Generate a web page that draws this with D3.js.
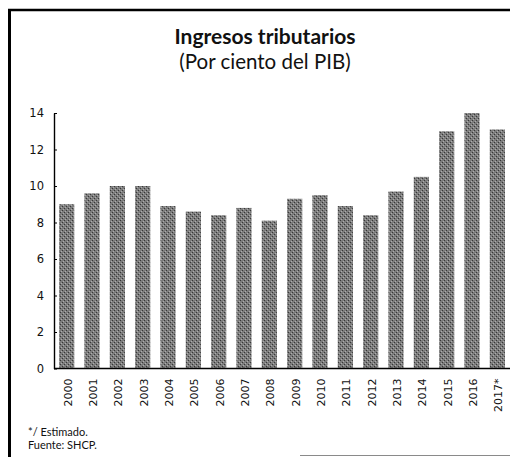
<!DOCTYPE html>
<html>
<head>
<meta charset="utf-8">
<script src="https://cdn.jsdelivr.net/npm/d3@7"></script>
<style>
  html, body { margin: 0; padding: 0; background: #fff; }
  svg { display: block; }
</style>
</head>
<body>
<svg id="chart" width="510" height="457"></svg>
<script>
// Tax revenue as a share of GDP, 2000-2017 (2017 estimated)
const years = ["2000","2001","2002","2003","2004","2005","2006","2007","2008",
               "2009","2010","2011","2012","2013","2014","2015","2016","2017*"];
const values = [9.0, 9.6, 10.0, 10.0, 8.9, 8.6, 8.4, 8.8, 8.1,
                9.3, 9.5, 8.9, 8.4, 9.7, 10.5, 13.0, 14.0, 13.1];
const yTicks = [0, 2, 4, 6, 8, 10, 12, 14];

const W = 510, H = 457;
const plot = { left: 54, right: 510, top: 113, bottom: 368.5 };

const svg = d3.select("#chart");

// stippled grey fill for the bars
const defs = svg.append("defs");
const pat = defs.append("pattern")
  .attr("id", "stipple").attr("patternUnits", "userSpaceOnUse")
  .attr("width", 4).attr("height", 4);
pat.append("rect").attr("width", 4).attr("height", 4).attr("fill", "#7c7c7c");
pat.append("rect").attr("x", 0).attr("y", 0).attr("width", 1).attr("height", 1).attr("fill", "#383838");
pat.append("rect").attr("x", 2).attr("y", 2).attr("width", 1).attr("height", 1).attr("fill", "#383838");
pat.append("rect").attr("x", 1).attr("y", 3).attr("width", 1).attr("height", 1).attr("fill", "#adadad");
pat.append("rect").attr("x", 3).attr("y", 1).attr("width", 1).attr("height", 1).attr("fill", "#adadad");

// frame
svg.append("line").attr("x1", 8).attr("x2", W).attr("y1", 10).attr("y2", 10)
  .attr("stroke", "#000").attr("stroke-width", 2.5);
svg.append("line").attr("x1", 9.5).attr("x2", 9.5).attr("y1", 9).attr("y2", H)
  .attr("stroke", "#000").attr("stroke-width", 3);
svg.append("line").attr("x1", 300).attr("x2", W).attr("y1", 455.5).attr("y2", 455.5)
  .attr("stroke", "#8a8a8a").attr("stroke-width", 1);

// titles
svg.append("text").attr("x", 265).attr("y", 44).attr("text-anchor", "middle")
  .attr("font-family", "Lato, 'Open Sans', sans-serif").attr("font-weight", "bold")
  .attr("font-size", 21).attr("fill", "#111").text("Ingresos tributarios");
svg.append("text").attr("x", 265).attr("y", 69).attr("text-anchor", "middle")
  .attr("font-family", "Lato, 'Open Sans', sans-serif")
  .attr("font-size", 20.5).attr("fill", "#111").text("(Por ciento del PIB)");

const x = d3.scaleBand().domain(years).range([plot.left, plot.right])
  .paddingInner(0.4).paddingOuter(0.2);
const y = d3.scaleLinear().domain([0, 14]).range([plot.bottom, plot.top]);

// bars
svg.append("g").selectAll("rect").data(years).join("rect")
  .attr("x", d => x(d))
  .attr("width", x.bandwidth())
  .attr("y", (d, i) => y(values[i]))
  .attr("height", (d, i) => y(0) - y(values[i]))
  .attr("fill", "url(#stipple)");

// y axis
const yAxis = svg.append("g").attr("transform", `translate(${plot.left},0)`)
  .call(d3.axisLeft(y).tickValues(yTicks).tickSizeInner(-3).tickSizeOuter(0).tickPadding(10));
yAxis.select(".domain").attr("stroke-width", 1.4);
yAxis.selectAll("text").attr("font-family", "'DejaVu Sans', sans-serif")
  .attr("font-size", 11.5).attr("fill", "#111");

// x axis
const xAxis = svg.append("g").attr("transform", `translate(0,${plot.bottom})`)
  .call(d3.axisBottom(x).tickSize(0).tickPadding(0));
xAxis.select(".domain").attr("stroke-width", 1.5).attr("d", `M${plot.left},0H${W}`);
xAxis.selectAll("text")
  .attr("font-family", "'DejaVu Sans', sans-serif").attr("font-size", 11).attr("fill", "#111")
  .attr("text-anchor", "end")
  .attr("transform", "rotate(-90)")
  .attr("x", -10).attr("y", 1).attr("dy", "0.35em").attr("dx", 0);

// notes
const notes = ["*/ Estimado.", "Fuente: SHCP."];
svg.append("g").selectAll("text").data(notes).join("text")
  .attr("x", 28).attr("y", (d, i) => 436 + i * 13)
  .attr("font-family", "Lato, 'Open Sans', sans-serif").attr("font-size", 11)
  .attr("fill", "#111").text(d => d);
</script>
</body>
</html>
